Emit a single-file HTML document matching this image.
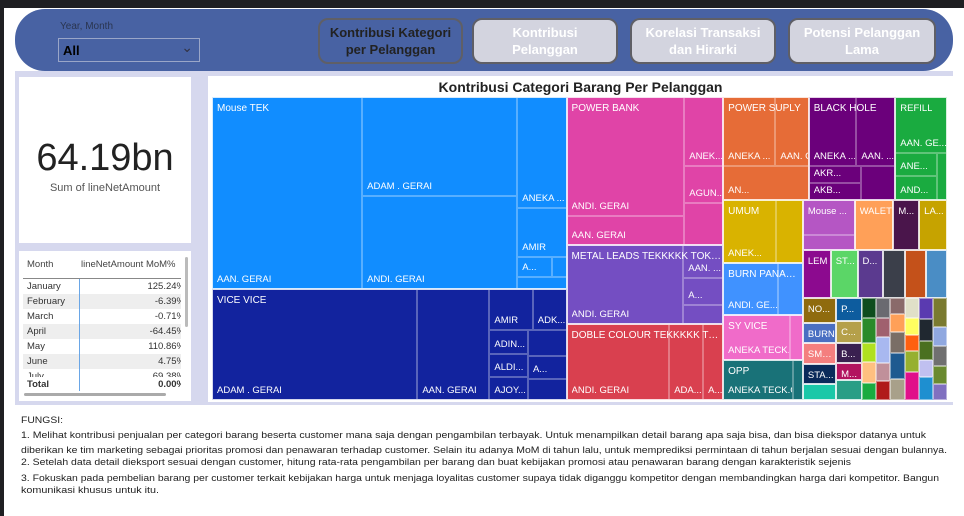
<!DOCTYPE html>
<html><head><meta charset="utf-8">
<style>
body{margin:0;width:964px;height:516px;overflow:hidden;background:#fff;font-family:"Liberation Sans",sans-serif;position:relative}
.abs{position:absolute}
.btn{position:absolute;top:18px;height:46px;border:2px solid #5f5f66;border-radius:10px;background:#D3D4DF;color:#fff;font-weight:bold;font-size:13px;text-align:center;display:flex;align-items:center;justify-content:center;line-height:17px;box-sizing:border-box}
.tm{position:absolute;box-sizing:border-box;overflow:hidden}
.lb{position:absolute;color:#fff;font-size:9.5px;white-space:nowrap;left:4px}
.row{position:absolute;left:0;width:158px;height:15px;font-size:9.5px;color:#333;overflow:hidden}
.row span{position:absolute;white-space:nowrap}
.tl{position:absolute;left:21px;white-space:nowrap;font-size:9.6px;color:#222;transform-origin:0 0}
</style></head><body>
<div class="abs" style="left:0;top:0;width:964px;height:8px;background:#1f1f22"></div>
<div class="abs" style="left:0;top:0;width:4px;height:516px;background:#1f1f22"></div>
<div class="abs" style="left:15px;top:9px;width:938px;height:62px;background:#4862A3;border-radius:30px"></div>
<div class="abs" style="left:60px;top:21px;font-size:10px;color:#2a3550">Year, Month</div>
<div class="abs" style="left:58px;top:38px;width:142px;height:24px;border:1px solid #9aa6c8;box-sizing:border-box;font-size:13px;font-weight:bold;color:#000;padding:4px 0 0 4px">All<span style="position:absolute;right:6px;top:0px;font-weight:normal;font-size:14px;color:#334">&#8964;</span></div>
<div class="btn" style="left:318px;width:145px;background:#4862A3;color:#222">Kontribusi Kategori<br>per Pelanggan</div>
<div class="btn" style="left:472px;width:146px">Kontribusi<br>Pelanggan</div>
<div class="btn" style="left:630px;width:146px">Korelasi Transaksi<br>dan Hirarki</div>
<div class="btn" style="left:788px;width:148px">Potensi Pelanggan<br>Lama</div>

<div class="abs" style="left:15px;top:71px;width:938px;height:334px;background:#D6D8EE"></div>
<div class="abs" style="left:19px;top:77px;width:172px;height:166px;background:#fff">
  <div class="abs" style="left:0;width:172px;top:60px;text-align:center;font-size:38px;color:#222">64.19bn</div>
  <div class="abs" style="left:0;width:172px;top:105px;text-align:center;font-size:11px;color:#555">Sum of lineNetAmount</div>
</div>
<div class="abs" style="left:19px;top:251px;width:172px;height:150px;background:#fff">
  <div class="abs" style="left:8px;top:8px;font-size:9.5px;color:#444">Month</div>
  <div class="abs" style="left:62px;top:8px;width:102px;overflow:hidden;white-space:nowrap;font-size:9.5px;color:#444">lineNetAmount MoM%</div>
  <div class="abs" style="left:4px;top:27px;width:158px;height:1px;background:#888"></div>
  <div id="rows"></div>
  <div class="abs" style="left:60px;top:28px;width:1px;height:112px;background:#6aa6e6"></div>
  <div class="abs" style="left:166px;top:6px;width:3px;height:70px;background:#bbb;border-radius:2px"></div>
  <div class="abs" style="left:5px;top:142px;width:142px;height:3px;background:#aaa;border-radius:2px"></div>
</div>
<div class="abs" style="left:208px;top:76px;width:745px;height:326px;background:#fff">
  <div class="abs" style="left:0;width:745px;top:3px;text-align:center;font-size:14px;font-weight:bold;color:#222">Kontribusi Categori Barang Per Pelanggan</div>
</div>
<div id="tree" class="abs" style="left:212px;top:97px;width:735px;height:303px"></div>
<div class="abs" style="left:15px;top:405px;width:938px;height:111px;background:#fff"></div>
<div id="notes"></div>
<script>
const months=["January","February","March","April","May","June","July"];
const mom=["125.24%","-6.39%","-0.71%","-64.45%","110.86%","4.75%","69.38%"];
const rowsEl=document.getElementById('rows');
months.forEach((m,i)=>{
  const r=document.createElement('div');
  
  
  r.className='row';
  r.style.left='4px';r.style.top=(28+i*15)+'px';
  if(i%2==1)r.style.background='#eee';
  r.innerHTML='<span style="left:4px;top:2px">'+m+'</span><span style="right:-4px;top:2px">'+mom[i]+'</span>';
  if(i==6){r.style.height='8px';}
  rowsEl.appendChild(r);
});
const tot=document.createElement('div');


tot.className='row';tot.style.left='4px';tot.style.top='127px';tot.style.fontWeight='bold';
tot.innerHTML='<span style="left:4px;top:1px">Total</span><span style="right:-4px;top:1px">0.00%</span>';
rowsEl.appendChild(tot);

const catNames=["Mouse TEK","VICE VICE","POWER BANK","METAL LEADS TEKKKKK TOKK TEKKK","DOBLE COLOUR TEKKKKK TOKK TEKK","POWER SUPLY","BLACK HOLE","REFILL","UMUM","BURN PANASONIC","SY VICE","OPP","Mouse ...","WALET","M...","LA...","LEM","ST...","D...","","","","NO...","BURN","SME...","STA...","","P...","C...","B...","M...",""];
const catColors=["#118DFF","#12239E","#E044A7","#744EC2","#D9404F","#E66C37","#6B007B","#1AAB40","#D9B300","#4092FF","#F06BC9","#197278","#B556C4","#FFA058","#4A154B","#C6A300","#8C0A8F","#5BD667","#5B3A8F","#3B3F4A","#C4511A","#4A8DC5","#8F6B0E","#4A6FC2","#F47F7F","#0A2A5A","#1AC8A8","#0D5C9E","#B5A04A","#3A2050","#B2125F","#2A9E86"];
const smallColors=["#0E4D1E","#2A8A2A","#B0E020","#FFC080","#1AAB40","#6A6A70","#A0606E","#A8B8F0","#C0909A","#B01A1A","#8A6A6A","#FFA058","#7A6E66","#1E5A90","#A8A08A","#E0E0C8","#FFFF60","#FF6010","#96B030","#E0108A","#5A3AB0","#202830","#4A7020","#C0C0F0","#1E8FD0","#7A7A30","#90A8E0","#707070","#6A8A30","#8070C0"];
const smallValues=[24,30,22,26,20,24,24,32,22,24,18,20,24,30,24,22,20,18,24,32,22,22,20,18,24,32,22,22,20,18];
function L(l,v){return {l:l,v:v};}
function N(d,k){return {d:d,k:k};}
function C(i,d,k){return {cat:i,d:d,k:k};}
const tree=N('h',[
  N('v',[
    C(0,'h',[L('AAN. GERAI',28950),N('v',[L('ADAM . GERAI',15500),L('ANDI. GERAI',14415)]),N('v',[L('ANEKA ...',5500),L('AMIR',2400),N('h',[L('A...',700),L('',300)]),L('',600)])]),
    C(1,'h',[L('ADAM . GERAI',22880),L('AAN. GERAI',8030),N('v',[N('h',[L('AMIR',1800),L('ADK...',1400)]),N('h',[N('v',[L('ADIN...',900),L('ALDI...',900),L('AJOY...',900)]),N('v',[L('',1000),L('A...',900),L('',800)])])])])
  ]),
  N('v',[
    C(2,'h',[N('v',[L('ANDI. GERAI',14040),L('AAN. GERAI',3510)]),N('v',[L('ANEK...',2700),L('AGUN...',1450),L('',1650)])]),
    C(3,'h',[L('ANDI. GERAI',9240),N('v',[L('AAN. ...',1300),L('A...',1080),L('',780)])]),
    C(4,'h',[L('ANDI. GERAI',7800),L('ADA...',2580),L('A...',1520)])
  ]),
  N('v',[
    N('h',[
      C(5,'v',[N('h',[L('ANEKA ...',3600),L('AAN. G...',2300)]),L('AN...',2958)]),
      C(6,'v',[N('h',[L('ANEKA ...',3300),L('AAN. ...',2700)]),N('h',[N('v',[L('AKR...',900),L('AKB...',900)]),L('',1161)])]),
      C(7,'v',[L('AAN. GE...',2900),N('h',[N('v',[L('ANE...',1000),L('AND...',1000)]),L('',456)])])
    ]),
    N('h',[
      N('v',[
        C(8,'h',[L('ANEK...',3300),L('',1700)]),
        C(9,'h',[L('ANDI. GE...',2900),L('',1300)]),
        C(10,'h',[L('ANEKA TECK...',3000),L('',600)]),
        C(11,'h',[L('ANEKA TECK.G...',2800),L('',400)])
      ]),
      N('v',[
        N('h',[C(12,'v',[L('',1800),L('',800)]),C(13,'v',[L('',1950)]),C(14,'v',[L('',1300)]),C(15,'v',[L('',1400)])]),
        N('h',[C(16,'v',[L('',1344)]),C(17,'v',[L('',1296)]),C(18,'v',[L('',1248)]),C(19,'v',[L('',1056)]),C(20,'v',[L('',1008)]),C(21,'v',[L('',1008)])]),
        N('h',[
          N('v',[C(22,'v',[L('',816)]),C(23,'v',[L('',680)]),C(24,'v',[L('',714)]),C(25,'v',[L('',646)]),C(26,'v',[L('',540)])]),
          N('v',[C(27,'v',[L('',598)]),C(28,'v',[L('',572)]),C(29,'v',[L('',520)]),C(30,'v',[L('',442)]),C(31,'v',[L('',520)])]),
          {small:true}
        ])
      ])
    ])
  ])
]);
const smallTotal=85*102;
function val(n){if(n.small)return smallTotal;if(n.v!=null)return n.v;return n.k.reduce((s,x)=>s+val(x),0);}
const host=document.getElementById('tree');
function box(x,y,w,h,bg,border){const d=document.createElement('div');d.className='tm';d.style.left=x+'px';d.style.top=y+'px';d.style.width=w+'px';d.style.height=h+'px';if(bg)d.style.background=bg;d.style.border=border;host.appendChild(d);return d;}
function drawSmall(x,y,w,h){
  const cols=6,rows=5;const cw=w/cols;
  for(let c=0;c<cols;c++){
    let idx=c*rows;let tot=0;for(let r=0;r<rows;r++)tot+=smallValues[idx+r];
    let oy=0;
    for(let r=0;r<rows;r++){const hh=h*smallValues[idx+r]/tot;
      const d=box(x+c*cw,y+oy,cw,hh,smallColors[idx+r],'1px solid rgba(255,255,255,0.45)');
      
      
      oy+=hh;}
  }
}
function lay(n,x,y,w,h,color){
  if(n.small){drawSmall(x,y,w,h);return;}
  if(n.cat!=null)color=catColors[n.cat];
  if(n.k){
    const t=val(n);let o=0;
    n.k.forEach(ch=>{const f=val(ch)/t;
      if(n.d==='h'){lay(ch,x+o*w,y,w*f,h,color);}else{lay(ch,x,y+o*h,w,h*f,color);}
      o+=f;});
    if(n.cat!=null){
      const b=box(x,y,w,h,null,'1px solid rgba(255,255,255,0.75)');
      
      
      const nm=catNames[n.cat];
      if(nm){const s=document.createElement('div');s.className='lb';s.style.top='5px';s.style.maxWidth=(w-6)+'px';s.style.overflow='hidden';s.style.textOverflow='ellipsis';s.style.fontSize=(w>60?'10px':'9.5px');s.textContent=nm;b.appendChild(s);}
    }
  } else {
    const d=box(x,y,w,h,color,'1px solid rgba(255,255,255,0.3)');
    
    
    if(n.l&&h>14&&w>18){const s=document.createElement('div');s.className='lb';s.style.bottom='3px';s.style.maxWidth=(w-5)+'px';s.style.overflow='hidden';s.textContent=n.l;d.appendChild(s);}
  }
}
lay(tree,0,0,735,303,'#888');

const noteLines=["FUNGSI:",
"1. Melihat kontribusi penjualan per categori barang beserta customer mana saja dengan pengambilan terbayak. Untuk menampilkan detail barang apa saja bisa, dan bisa diekspor datanya untuk",
"diberikan ke tim marketing sebagai prioritas promosi dan penawaran terhadap customer. Selain itu adanya MoM di tahun lalu, untuk memprediksi permintaan di tahun berjalan sesuai dengan bulannya.",
"2. Setelah data detail dieksport sesuai dengan customer, hitung rata-rata pengambilan per barang dan buat kebijakan promosi atau penawaran barang dengan karakteristik sejenis",
"3. Fokuskan pada pembelian barang per customer terkait kebijakan harga untuk menjaga loyalitas customer supaya tidak diganggu kompetitor dengan membandingkan harga dari kompetitor. Bangun",
"komunikasi khusus untuk itu."];
const noteTops=[415,430,445,457,473,485];
const noteWidths=[42,905,926,830,918,138];
const nh=document.getElementById('notes');
noteLines.forEach((t,i)=>{const d=document.createElement('div');
  
  
  d.className='tl';d.style.top=noteTops[i]+'px';d.textContent=t;nh.appendChild(d);
  const w=d.getBoundingClientRect().width;d.style.transform='scaleX('+(noteWidths[i]/w)+')';});
</script>
</body></html>
